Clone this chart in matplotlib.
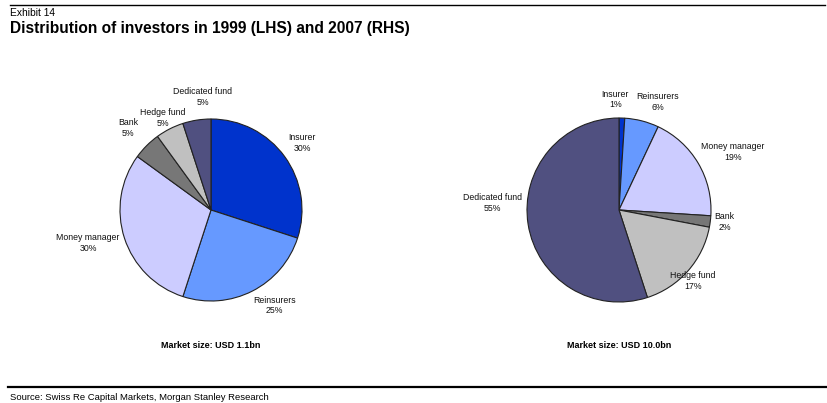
import matplotlib.pyplot as plt
from matplotlib.lines import Line2D

plt.rcParams['font.family'] = ['Liberation Sans', 'DejaVu Sans']

investors = ['Insurer', 'Reinsurers', 'Money manager', 'Bank', 'Hedge fund', 'Dedicated fund']
share_1999 = [30, 25, 30, 5, 5, 5]
share_2007 = [1, 6, 19, 2, 17, 55]
colours = ['#0033cc', '#6699ff', '#ccccff', '#777777', '#c0c0c0', '#505080']

W, H = 827, 403
fig = plt.figure(figsize=(W / 100, H / 100), dpi=100)

# label anchors in pie units (radius = 1)
pos_1999 = [(1.00, 0.74), (0.70, -1.05), (-1.35, -0.36), (-0.91, 0.90), (-0.53, 1.01), (-0.09, 1.24)]
pos_2007 = [(-0.04, 1.20), (0.42, 1.17), (1.24, 0.63), (1.15, -0.13), (0.80, -0.77), (-1.38, 0.08)]


def draw_pie(cx, cy, r, values, positions, caption):
    ax = fig.add_axes([(cx - r) / W, (H - cy - r) / H, 2 * r / W, 2 * r / H])
    ax.pie(values, colors=colours, startangle=90, counterclock=False,
           wedgeprops=dict(edgecolor='#222222', linewidth=0.8))
    ax.set_xlim(-1, 1)
    ax.set_ylim(-1, 1)
    ax.set_aspect('equal')
    ax.axis('off')
    for name, v, (x, y) in zip(investors, values, positions):
        ax.text(x, y, f'{name}\n{v}%', ha='center', va='center', fontsize=6.3,
                linespacing=1.25, color='#111111', clip_on=False)
    fig.text(cx / W, 1 - 345 / H, caption, ha='center', va='center',
             fontsize=6.5, fontweight='bold')


draw_pie(211, 210, 91, share_1999, pos_1999, 'Market size: USD 1.1bn')
draw_pie(619, 210, 92, share_2007, pos_2007, 'Market size: USD 10.0bn')

# header and footer
fig.add_artist(Line2D([10 / W, 825 / W], [1 - 5 / H] * 2, color='black', lw=1.0))
fig.text(10 / W, 1 - 13 / H, 'Exhibit 14', fontsize=7.4, va='center', ha='left')
fig.text(10 / W, 1 - 28.5 / H, 'Distribution of investors in 1999 (LHS) and 2007 (RHS)',
         fontsize=11.2, fontweight='bold', va='center', ha='left')
fig.add_artist(Line2D([8 / W, 1.0], [1 - 386.5 / H] * 2, color='black', lw=1.6))
fig.text(10 / W, 1 - 397 / H, 'Source: Swiss Re Capital Markets, Morgan Stanley Research',
         fontsize=6.8, va='center', ha='left')

fig.savefig('out.png', dpi=100)
